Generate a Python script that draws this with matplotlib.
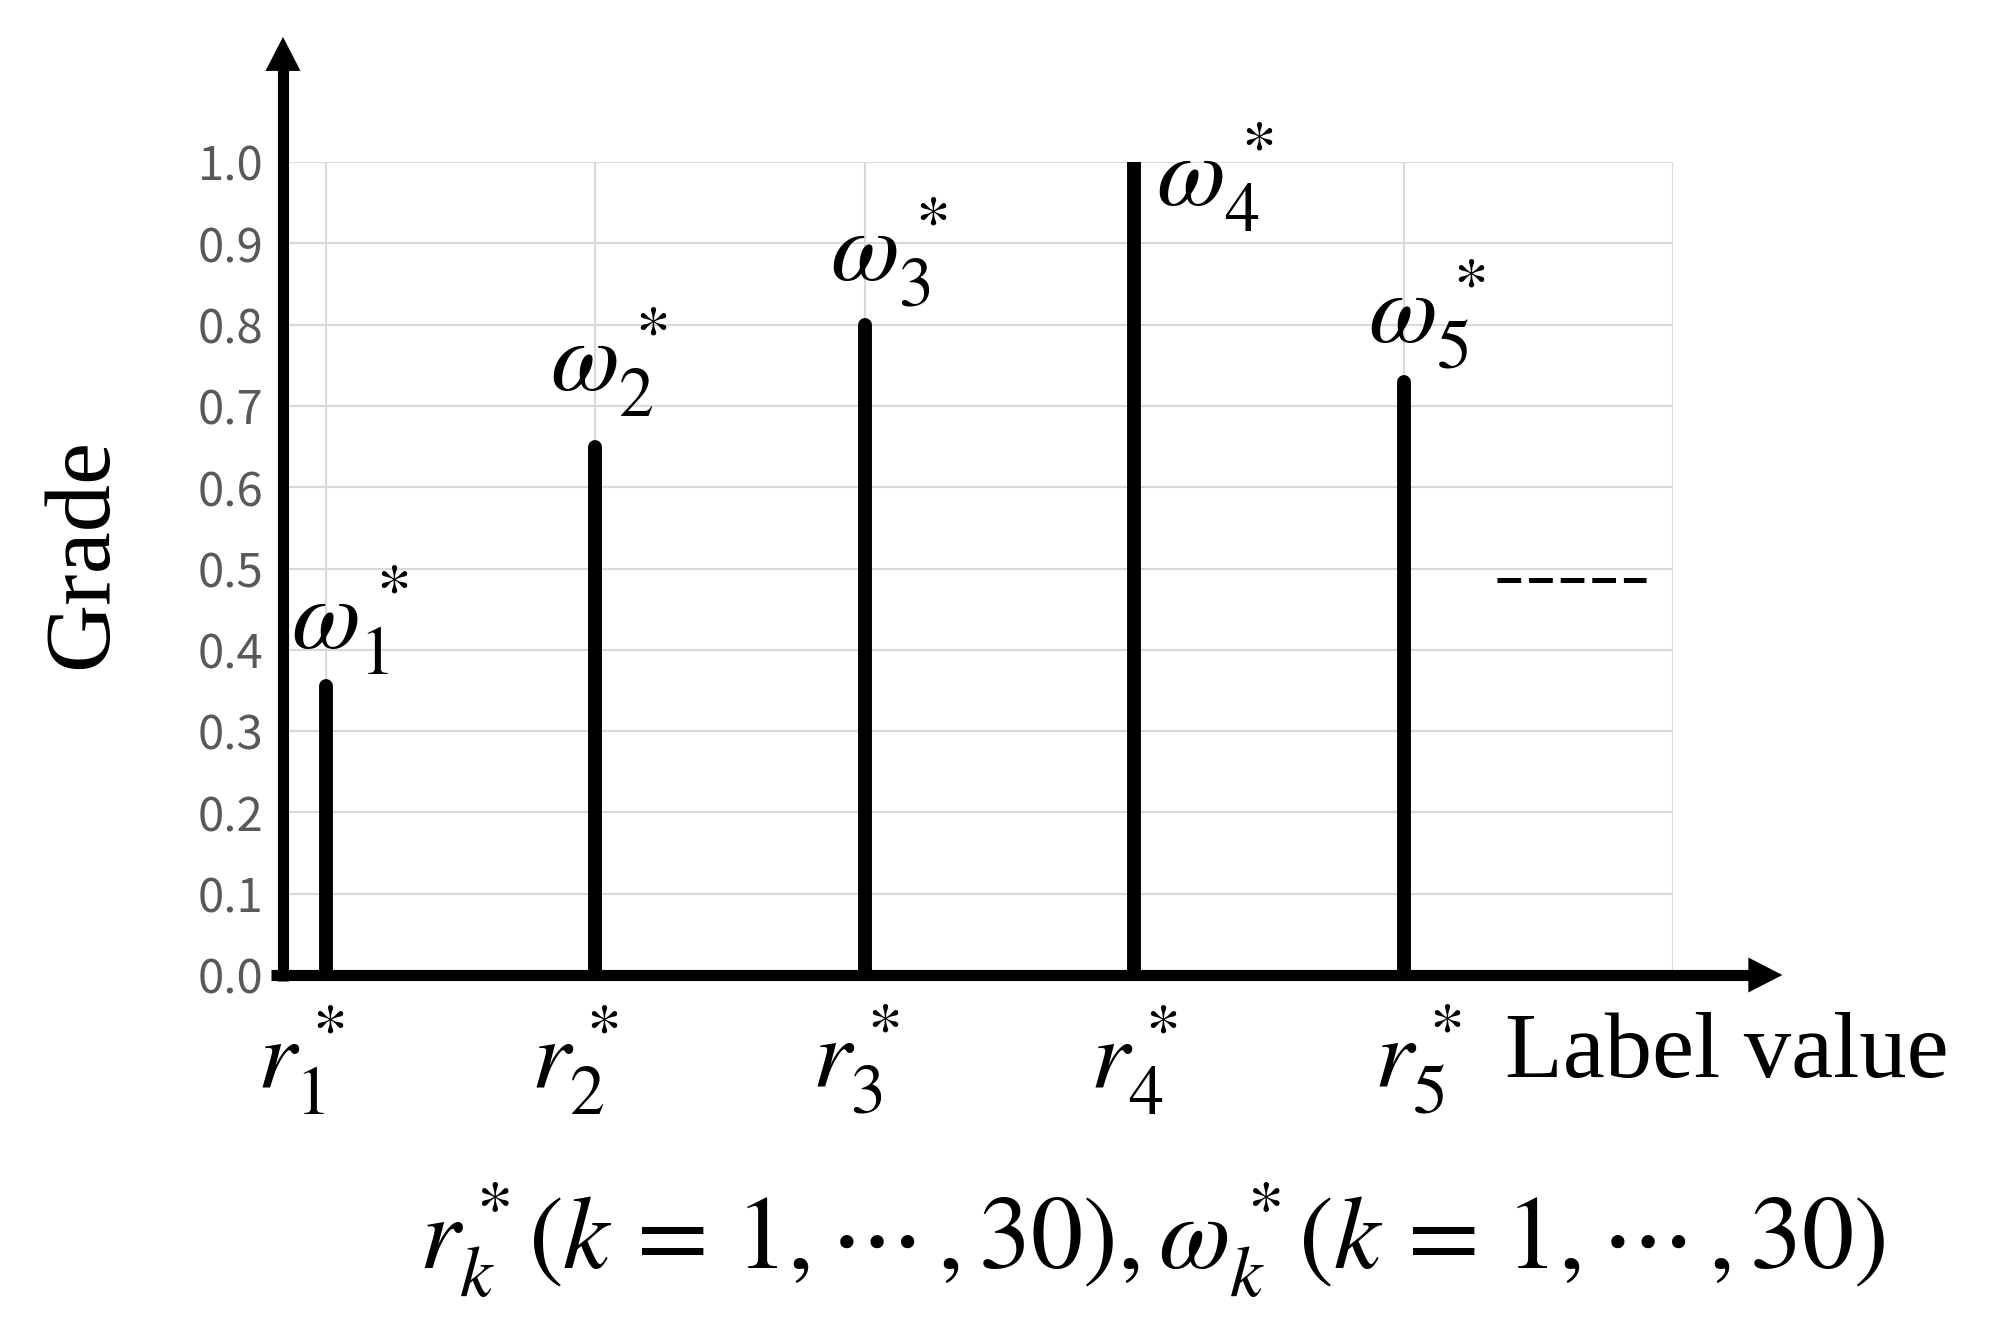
import numpy as np
import matplotlib.pyplot as plt

plt.rcParams['mathtext.fontset'] = 'stix'

# first five of the 30 label values and their grades
label_idx = [1, 2, 3, 4, 5]
grades = [0.355, 0.65, 0.80, 1.00, 0.73]
yticks = np.round(np.arange(0, 1.01, 0.1), 1)
xgrid = [1, 2, 3, 4, 5, 6]
more_y = 0.486          # the "-----" mark meaning "and so on"
more_x = (5.345, 5.90)

# label placement tweaks (data units)
r_dx = [-0.093, -0.078, -0.033, 0.0, 0.052]
w_dx = [0.089, 0.048, 0.089, 0.297, 0.085]
w_dy = [0.047, 0.07, 0.054, -0.053, 0.048]

x0 = 0.8404
serif = 'Liberation Serif'

fig = plt.figure(figsize=(19.9, 13.34), dpi=100)
ax = fig.add_axes([0.1422, 0.2691, 0.6985, 0.6094])
ax.set_xlim(x0, 6.0)
ax.set_ylim(0, 1)
for s in ax.spines.values():
    s.set_visible(False)

ax.set_xticks(xgrid, labels=[])
ax.set_yticks(yticks, labels=[f"{v:.1f}" for v in yticks])
ax.tick_params(axis='both', length=0)
ax.tick_params(axis='y', pad=14, labelsize=34, labelcolor='#595959')
for t in ax.get_yticklabels():
    t.set_family('Noto Sans CJK JP')
ax.grid(True, color='#d9d9d9', lw=1.5)
ax.set_axisbelow(True)

# stems
ax.vlines(label_idx, 0, grades, colors='k', lw=10, capstyle='round', zorder=3)

# arrow axes
head = dict(arrowstyle='-|>,head_length=24.5,head_width=12.6', mutation_scale=1,
            lw=0, color='k', shrinkA=0, shrinkB=0)
ax.plot([x0, x0], [-0.0068, 1.125], color='k', lw=8, solid_capstyle='butt',
        clip_on=False, zorder=4)
ax.annotate('', xy=(x0, 1.154), xytext=(x0, 1.10), arrowprops=head,
            annotation_clip=False, zorder=4)
ax.plot([0.796, 6.32], [0, 0], color='k', lw=8, solid_capstyle='butt',
        clip_on=False, zorder=4)
ax.annotate('', xy=(6.406, 0), xytext=(6.3, 0), arrowprops=head,
            annotation_clip=False, zorder=4)

# continuation mark
ax.plot(more_x, [more_y, more_y], color='k', lw=3.6,
        linestyle=(0, (4.74, 1.58)), dash_capstyle='butt', zorder=3)

for i, (k, g) in enumerate(zip(label_idx, grades)):
    ax.text(k + r_dx[i], -0.139, rf'$r_{k}^*$', ha='center', va='baseline',
            fontsize=72, clip_on=False)
    ax.text(k + w_dx[i], g + w_dy[i], rf'$\omega_{k}^*$', ha='center',
            va='baseline', fontsize=72, clip_on=False)

fig.text(84 / 1990, 1 - 554 / 1334, 'Grade', rotation=90, family=serif,
         fontsize=68, ha='center', va='center')
fig.text(1505 / 1990, 1 - 1077 / 1334, 'Label value', family=serif,
         fontsize=68, ha='left', va='baseline')
fig.text(0.579, 0.0487,
         r'$r_k^*(k\,=\,1,\cdots\,,30),\omega_k^*(k\,=\,1,\cdots\,,30)$',
         ha='center', va='baseline', fontsize=75)

fig.savefig('out.png', dpi=100)
